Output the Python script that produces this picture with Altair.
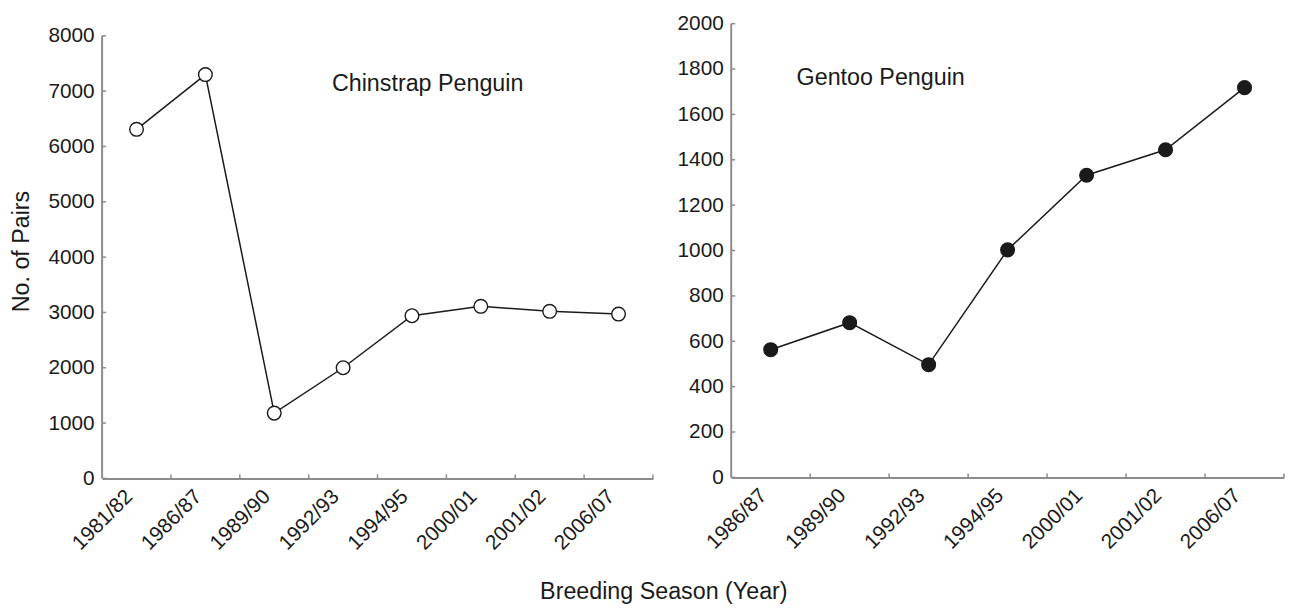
import altair as alt
import pandas as pd

# ---- data ----
chin_seasons = ["1981/82", "1986/87", "1989/90", "1992/93", "1994/95", "2000/01", "2001/02", "2006/07"]
chin_pairs = [6310, 7300, 1180, 2000, 2940, 3110, 3020, 2970]
chin_yticks = [0, 1000, 2000, 3000, 4000, 5000, 6000, 7000, 8000]

gentoo_seasons = ["1986/87", "1989/90", "1992/93", "1994/95", "2000/01", "2001/02", "2006/07"]
gentoo_pairs = [563, 682, 497, 1003, 1332, 1444, 1718]
gentoo_yticks = [0, 200, 400, 600, 800, 1000, 1200, 1400, 1600, 1800, 2000]

FONT = "Liberation Sans"
INK = "#1a1a1a"
AXIS_GRAY = "#8c8c8c"


def panel(seasons, values, yticks, ymax, w, h, marker_fill, label, lx, ly, ytitle):
    df = pd.DataFrame({"season": seasons, "pairs": values})
    xscale = alt.Scale(type="band", paddingInner=0, paddingOuter=0)
    xaxis = alt.Axis(title=None, labelAngle=-45, labelAlign="right", labelBaseline="bottom",
                     ticks=False, tickSize=0,
                     domain=True, domainColor=AXIS_GRAY, domainWidth=2,
                     labelFontSize=21, labelFont=FONT, labelColor=INK, labelPadding=22)
    yscale = alt.Scale(domain=[0, ymax], nice=False, zero=True)
    yaxis = alt.Axis(title=ytitle if ytitle else None, titleFont=FONT, titleFontSize=23.5,
                     titleFontWeight="normal", titleColor=INK, titlePadding=15,
                     values=yticks, format="d", domain=False, ticks=False, tickSize=0,
                     grid=False, labelFontSize=21, labelFont=FONT, labelColor=INK,
                     labelPadding=8)

    def xe(bp):
        return alt.X("season:N", sort=seasons, scale=xscale, axis=xaxis, bandPosition=bp)

    def ye(field):
        return alt.Y(field, scale=yscale, axis=yaxis)

    line = alt.Chart(df).mark_line(color=INK, strokeWidth=1.5).encode(
        x=xe(0.5), y=ye("pairs:Q"))
    pts = alt.Chart(df).mark_circle(size=190, fill=marker_fill, stroke=INK,
                                    strokeWidth=1.4, opacity=1).encode(
        x=xe(0.5), y=ye("pairs:Q"))
    # y axis line from 0 to top tick
    ydom = alt.Chart(pd.DataFrame({"pairs": [0], "hi": [yticks[-1]]})).mark_rule(
        color=AXIS_GRAY, strokeWidth=2).encode(
        x=alt.value(0), y=ye("pairs:Q"), y2="hi:Q")
    # inward y ticks
    yt = alt.Chart(pd.DataFrame({"pairs": yticks})).mark_rule(
        color=AXIS_GRAY, strokeWidth=1.5).encode(
        x=alt.value(0), x2=alt.value(4), y=ye("pairs:Q"))
    # inward x ticks at band boundaries
    xt = alt.Chart(pd.DataFrame({"season": seasons})).mark_rule(
        color=AXIS_GRAY, strokeWidth=1.5).encode(
        x=xe(1), y=alt.value(h - 4), y2=alt.value(h))
    txt = alt.Chart(pd.DataFrame({"label": [label]})).mark_text(
        align="left", baseline="middle", font=FONT, fontSize=23.5, color=INK).encode(
        x=alt.value(lx), y=alt.value(ly), text="label:N")

    return alt.layer(line, ydom, yt, xt, pts, txt).properties(width=w, height=h)


left = panel(chin_seasons, chin_pairs, chin_yticks, 8220, 556, 459, "white",
             "Chinstrap Penguin", 232, 61, "No. of Pairs")
right = panel(gentoo_seasons, gentoo_pairs, gentoo_yticks, 2000, 558, 458, INK,
              "Gentoo Penguin", 66, 55, None)

chart = alt.hconcat(left, right, spacing=79, bounds="flush").properties(
    title=alt.TitleParams("Breeding Season (Year)", orient="bottom", anchor="middle",
                          font=FONT, fontSize=23.5, fontWeight="normal", color=INK,
                          offset=27, dx=17),
    padding={"left": 1, "top": 2, "right": 0, "bottom": 0},
).configure_view(stroke=None)

chart.save("out.html", embed_options={"renderer": "svg", "actions": False})
